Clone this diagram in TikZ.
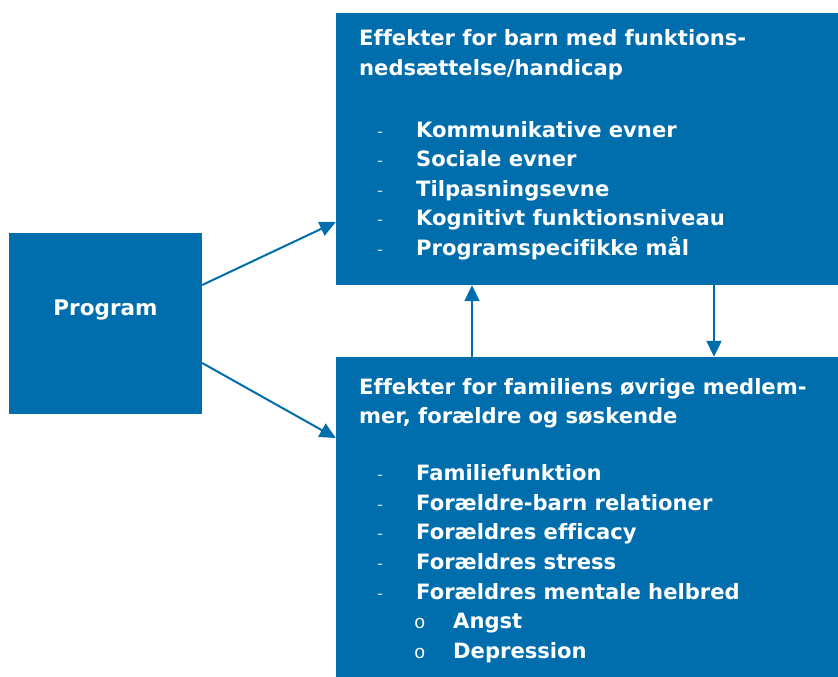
\documentclass[tikz,border=0pt]{standalone}
\usepackage{fontspec}
\setmainfont[Ligatures=NoCommon]{DejaVu Sans}
\newfontfamily\dashfont{DejaVu Sans}
\newfontfamily\circfont{Liberation Mono}
\usetikzlibrary{arrows.meta,calc}
\definecolor{boxblue}{RGB}{0,110,173}
\definecolor{dashgray}{RGB}{200,215,230}
\tikzset{
  box/.style={fill=boxblue, draw=none, rectangle, inner sep=0pt},
  txt/.style={anchor=base west, inner sep=0pt, text=white, font=\bfseries\fontsize{21.1}{25}\selectfont},
  dsh/.style={anchor=base west, inner sep=0pt, text=dashgray, font=\dashfont\fontsize{17}{20}\selectfont},
  circ/.style={anchor=base west, inner sep=0pt, text=white, font=\circfont\fontsize{19}{22}\selectfont},
  arr/.style={draw=boxblue, line width=2pt, -{Triangle[length=16pt,width=15pt]}}
}
\begin{document}
\begin{tikzpicture}[x=1pt,y=-1pt]
\useasboundingbox (0,0) rectangle (838,677);
\node[box, minimum width=193pt, minimum height=181pt] (prog) at (105.5,323.5) {};
\node[box, minimum width=502pt, minimum height=272pt] (top) at (587,149) {};
\node[box, minimum width=502pt, minimum height=320pt] (bot) at (587,517) {};
\node[anchor=base, inner sep=0pt, text=white, font=\bfseries\fontsize{21.5}{25}\selectfont] (progt) at (105.5,315) {Program};
% top box text
\node[txt] (t1) at (359,46) {Effekter for barn med funktions-};
\node[txt] (t2) at (359,76) {nedsættelse/handicap};
\foreach \i/\y/\s in {1/137/Kommunikative evner, 2/166.5/Sociale evner, 3/196/Tilpasningsevne, 4/225.5/Kognitivt funktionsniveau, 5/255/Programspecifikke mål}{
  \node[dsh] (td\i) at (377,\y) {-};
  \node[txt] (tb\i) at (416,\y) {\s};
}
% bottom box text
\node[txt] (b1) at (359,394) {Effekter for familiens øvrige medlem-};
\node[txt] (b2) at (359,423) {mer, forældre og søskende};
\foreach \i/\y/\s in {1/480/Familiefunktion, 2/510/Forældre-barn relationer, 3/539.5/Forældres efficacy, 4/569/Forældres stress, 5/599/Forældres mentale helbred}{
  \node[dsh] (bd\i) at (377,\y) {-};
  \node[txt] (bb\i) at (416,\y) {\s};
}
\node[circ] (bc1) at (414,628.5) {o};
\node[txt] (bs1) at (453,628.5) {Angst};
\node[circ] (bc2) at (414,658) {o};
\node[txt] (bs2) at (453,658) {Depression};
% arrows
\draw[arr] ([yshift=38.5pt]prog.east) -- ([yshift=-73pt]top.west);
\draw[arr] ([yshift=-39.5pt]prog.east) -- ([yshift=79pt]bot.west);
\draw[arr] ([xshift=-115pt]bot.north) -- ([xshift=-115pt]top.south);
\draw[arr] ([xshift=127pt]top.south) -- ([xshift=127pt]bot.north);
\end{tikzpicture}
\end{document}
